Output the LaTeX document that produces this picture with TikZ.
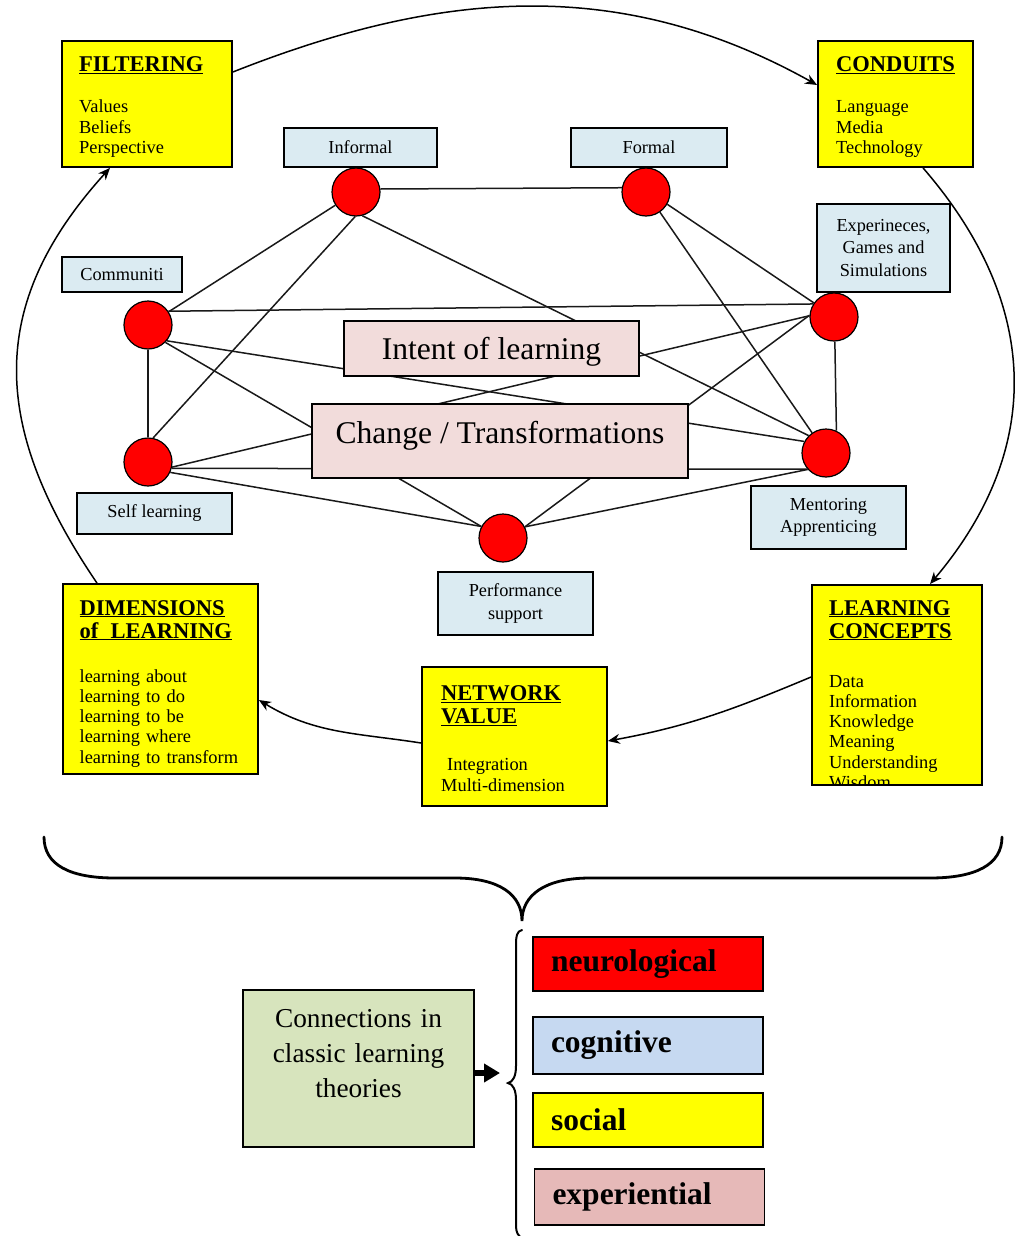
\documentclass[tikz,border=0pt]{standalone}
\usepackage{fontspec}
\setmainfont{Liberation Serif}
\usetikzlibrary{arrows.meta}
\definecolor{hubred}  {RGB}{255,  0,  0}
\definecolor{tagblue} {RGB}{219,235,242}
\definecolor{corepink}{RGB}{242,220,219}
\definecolor{topicyel}{RGB}{255,255,  0}
\definecolor{rootgrn} {RGB}{215,228,189}
\definecolor{cogblue} {RGB}{198,217,241}
\definecolor{expink}  {RGB}{230,185,184}
\newcommand{\lbfont}{\fontsize{18.3}{22.6}\selectfont}
\newcommand{\bdfont}{\fontsize{18.4}{20.3}\selectfont}
\newcommand{\crfont}{\fontsize{31.6}{36}\selectfont}
\newcommand{\cnfont}{\fontsize{27.3}{35}\selectfont}
\newcommand{\kdfont}{\fontsize{31.5}{36}\selectfont\bfseries}
\newcommand{\ttl}[1]{{\fontsize{22.5}{24}\selectfont\bfseries\underline{#1}}}
\tikzset{
  net line/.style   = {line width=1.5pt, black!90},
  hub dot/.style    = {circle, draw, line width=1.2pt, fill=hubred,
                       minimum size=48pt, inner sep=0pt},
  tag box/.style    = {draw, line width=1.7pt, fill=tagblue, inner sep=0pt,
                       align=center, font=\lbfont},
  core box/.style   = {draw, line width=1.7pt, fill=corepink, inner xsep=0pt,
                       inner ysep=0pt, font=\crfont},
  topic box/.style  = {draw, line width=1.8pt, fill=topicyel, inner sep=0pt},
  topic text/.style = {anchor=base west, inner sep=0pt, text width=#1,
                       align=left, font=\bdfont},
  ring arrow/.style = {line width=1.5pt, -{Stealth[length=12pt, width=10pt]}},
  kind box/.style   = {draw, line width=1.7pt, inner xsep=18pt, inner ysep=0pt,
                       text width=194pt, align=left, font=\kdfont},
}

\begin{document}
\begin{tikzpicture}[x=1pt, y=-1pt]
  \useasboundingbox[fill=white] (0,0) rectangle (1018,1236);

  % hubs of the network
  \node[hub dot] (Inf)  at (356,192) {};
  \node[hub dot] (For)  at (646,192) {};
  \node[hub dot] (Com)  at (148,325) {};
  \node[hub dot] (Exp)  at (834,317) {};
  \node[hub dot] (Self) at (148,462) {};
  \node[hub dot] (Ment) at (826,453) {};
  \node[hub dot] (Perf) at (503,538) {};

  % links between hubs (boxes are drawn later, on top)
  \draw[net line] (Inf.7)    -- (For.170);
  \draw[net line] (Inf)      -- (Com);
  \draw[net line] (Inf.268)  -- (Self.78);
  \draw[net line] (Inf.285)  -- (Ment.135);
  \draw[net line] (For.330)  -- (Exp.145);
  \draw[net line] (For)      -- (Ment);
  \draw[net line] (Com.34)   -- (Exp.148);
  \draw[net line] (Com.-40)  -- (Ment.152);
  \draw[net line] (Com.-45)  -- (Perf.152);
  \draw[net line] (Com)      -- (Self);
  \draw[net line] (Self.-12) -- (Exp.177);
  \draw[net line] (Self.-15) -- (Ment.221);
  \draw[net line] (Self.-25) -- (Perf.152);
  \draw[net line] (Perf.27)  -- (Ment.222);
  \draw[net line] (Perf.27)  -- (Exp.176);
  \draw[net line] (Exp.-88)  -- (Ment.65);

  % central boxes
  \node[core box, minimum width=295pt, text height=38pt, text depth=17pt]
    (intent) at (491.5,348.5) {Intent of learning};
  \node[core box, minimum width=376pt, text height=39pt, text depth=35pt]
    (change) at (500,441) {Change / Transformations};

  % hub labels
  \node[tag box, minimum width=153pt, minimum height=39pt] (infL)  at (360.5,147.5) {Informal};
  \node[tag box, minimum width=156pt, minimum height=39pt] (forL)  at (649,147.5)   {Formal};
  \node[tag box, minimum width=120pt, minimum height=35pt] (comL)  at (122,274.5)   {Communiti};
  \node[tag box, minimum width=133pt, minimum height=88pt] (expL)  at (883.5,248)
    {Experineces,\\Games and\\Simulations};
  \node[tag box, minimum width=155pt, minimum height=41pt] (selfL) at (154.5,513.5) {Self learning};
  \node[tag box, minimum width=155pt, minimum height=63pt] (mentL) at (828.5,517.5)
    {Mentoring\\Apprenticing};
  \node[tag box, minimum width=155pt, minimum height=63pt] (perfL) at (515.5,603.5)
    {Performance\\support};

  % ── yellow topic boxes ────────────────────────────────────────────────────
  \node[topic box, minimum width=170pt, minimum height=126pt] (filt) at (147,104) {};
  \node[topic text=150pt] (filt-t) at (79,72)
    {\ttl{FILTERING}\\[20.7pt] Values\\ Beliefs\\ Perspective};

  \node[topic box, minimum width=155pt, minimum height=126pt] (cond) at (895.5,104) {};
  \node[topic text=135pt] (cond-t) at (836,72)
    {\ttl{CONDUITS}\\[20.7pt] Language\\ Media\\ Technology};

  \node[topic box, minimum width=195pt, minimum height=190pt] (dims) at (160.5,679) {};
  \node[topic text=175pt] (dims-t) at (79.5,615)
    {\ttl{DIMENSIONS}\\[2.7pt] \ttl{of\ \ LEARNING}\\[23.7pt]
     learning about\\ learning to do\\ learning to be\\ learning where\\
     learning to transform};

  \node[topic box, minimum width=185pt, minimum height=139pt] (netv) at (514.5,736.5) {};
  \node[topic text=165pt] (netv-t) at (441,700)
    {\ttl{NETWORK}\\[2.7pt] \ttl{VALUE}\\[26.7pt]
     \hspace*{6pt}Integration\\[1.4pt] Multi-dimension};

  \node[topic box, minimum width=170pt, minimum height=200pt] (lcon) at (897,685) {};
  \begin{scope}
    \clip (lcon.north west) rectangle (lcon.south east);
    \node[topic text=150pt] (lcon-t) at (829,615)
      {\ttl{LEARNING}\\[2.7pt] \ttl{CONCEPTS}\\[28.7pt]
       Data\\ Information\\ Knowledge\\ Meaning\\ Understanding\\ Wisdom};
  \end{scope}

  % ── the cycle round the network ───────────────────────────────────────────
  \draw[ring arrow] ([yshift=32pt]filt.east)
    .. controls (440,-10) and (620,-25) .. ([yshift=19pt]cond.west);
  \draw[ring arrow] ([xshift=27.5pt]cond.south)
    .. controls (1040,303) and (1045,448) .. ([xshift=33pt]lcon.north);
  \draw[ring arrow] ([yshift=8pt]lcon.west)
    .. controls (734.5,709) and (690,726) .. ([yshift=-4.5pt]netv.east);
  \draw[ring arrow] ([yshift=-6.5pt]netv.west)
    .. controls (357,733) and (314.6,734) .. ([yshift=-21pt]dims.east);
  \draw[ring arrow] ([xshift=-63.5pt]dims.north)
    .. controls (-7.8,428.6) and (-15.5,306.3) .. ([xshift=-37pt]filt.south);

  % big brace under the cycle
  \draw[line width=2.8pt, line cap=round]
    (44,837) .. controls (44,865) and (70,878) .. (115,878) -- (455,878)
    .. controls (500,878) and (522,895) .. (522,921)
    .. controls (522,895) and (545,878) .. (590,878) -- (930,878)
    .. controls (975,878) and (1002,865) .. (1002,837);

  % ── classic theories ──────────────────────────────────────────────────────
  \node[draw, line width=1.7pt, fill=rootgrn, minimum width=231pt,
        minimum height=157pt] (conn) at (358.5,1068.5) {};
  \node[anchor=base, inner sep=0pt, text width=225pt, align=center,
        font=\cnfont] (conn-t) at (358.5,1027)
    {Connections in\\classic learning\\theories};

  \coordinate (brtip) at (500,1073);
  \draw[line width=6pt, -{Triangle[length=16pt, width=18pt]}]
    ([yshift=-4.5pt]conn.east) -- (brtip);

  % small brace
  \draw[line width=2pt, line cap=round]
    (522,930) .. controls (517,931) and (516,936) .. (516,945) -- (516,1066)
    .. controls (516,1076) and (513,1082) .. (508,1083)
    .. controls (513,1084) and (516,1090) .. (516,1100) -- (516,1226)
    .. controls (516,1232) and (518,1236) .. (522,1238);

  \node[kind box, fill=hubred,   minimum height=54pt] (neuro) at (648,964)    {neurological};
  \node[kind box, fill=cogblue,  minimum height=57pt] (cogn)  at (648,1045.5) {cognitive};
  \node[kind box, fill=topicyel, minimum height=54pt] (soc)   at (648,1120)   {social};
  \node[kind box, fill=expink,   minimum height=56pt] (expe)  at (649.5,1197) {experiential};

\end{tikzpicture}
\end{document}
